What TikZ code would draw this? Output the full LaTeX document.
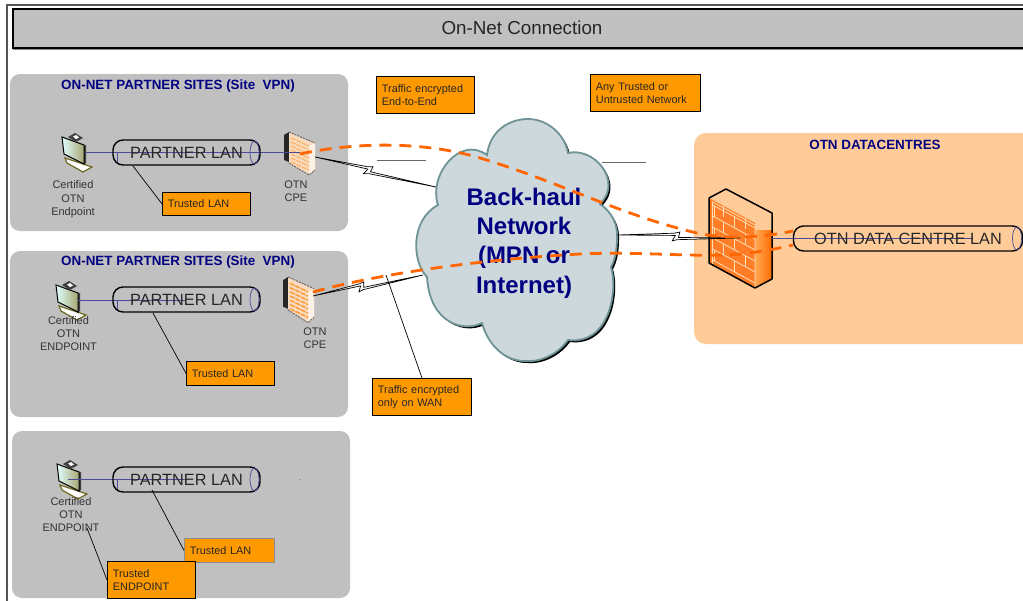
\documentclass[tikz,border=0pt]{standalone}
\usepackage{fontspec}
\setmainfont{Liberation Sans}
\usetikzlibrary{calc,shapes.geometric}
\definecolor{sitegrey}{HTML}{C0C0C0}
\definecolor{dcpeach}{HTML}{FFCC99}
\definecolor{noteorange}{HTML}{FF9900}
\definecolor{tunnelorange}{HTML}{FF6600}
\definecolor{headnavy}{HTML}{000080}
\definecolor{lanblue}{HTML}{4B4B9B}
\definecolor{cloudfill}{HTML}{CDD8DC}
\definecolor{cloudedge}{HTML}{6E9396}
\definecolor{framegrey}{HTML}{555555}
\definecolor{brickcream}{HTML}{FFDDB5}
\definecolor{wallpale}{HTML}{F9DCC0}
\def\cloudshape{(487,155) .. controls (490,130) and (510,119) .. (528,119) .. controls (548,119) and (565,135) .. (568,153) .. controls (590,148) and (612,170) .. (608,190) .. controls (607,195) and (604,200) .. (600,204) .. controls (612,212) and (618,225) .. (617,238) .. controls (617,250) and (615,260) .. (611,267) .. controls (618,290) and (610,345) .. (568,340) .. controls (555,358) and (535,362) .. (527,361) .. controls (505,362) and (488,345) .. (482,323) .. controls (465,332) and (430,325) .. (427,277) .. controls (412,262) and (410,220) .. (438,205) .. controls (428,175) and (460,135) .. (487,155) -- cycle}
\tikzset{
        sitebox/.style={fill=sitegrey,rounded corners=10pt},
        sitehead/.style={text=headnavy,font=\bfseries\fontsize{13.4}{16}\selectfont},
        note/.style={draw=black,fill=noteorange,line width=0.8pt,anchor=north west,align=left,inner sep=0pt,inner xsep=5.5pt,text=black!85,font=\fontsize{10.9}{13}\selectfont},
        caption/.style={align=center,text=black!80,font=\fontsize{11}{13.4}\selectfont},
        lanpipe/.style={draw=black,line width=1.4pt,rounded corners=10pt,inner sep=0pt,minimum height=25pt,text=black!85,font=\fontsize{16.3}{20}\selectfont},
        panend/.style={shape=ellipse,draw=lanblue,line width=0.7pt,minimum width=9pt,minimum height=23pt,inner sep=0pt},
        lanlink/.style={draw=lanblue,line width=0.9pt},
        tunnel/.style={draw=tunnelorange,line width=2.8pt,dash pattern=on 12pt off 8pt},
        callout/.style={draw=black,line width=0.7pt},
        zig/.style={draw=black,fill=white,line width=0.7pt,line join=miter,to path={
                -- ($(\tikztostart)!#1-0.045!(\tikztotarget)!3.2pt!90:(\tikztotarget)$)
                -- ($(\tikztostart)!#1!(\tikztotarget)!4.5pt!90:(\tikztotarget)$)
                -- ($(\tikztostart)!#1-0.01!(\tikztotarget)!-1pt!90:(\tikztotarget)$)
                -- (\tikztotarget)
                -- ($(\tikztostart)!#1-0.02!(\tikztotarget)!-3.2pt!90:(\tikztotarget)$)
                -- ($(\tikztostart)!#1-0.06!(\tikztotarget)!-4.5pt!90:(\tikztotarget)$)
                -- ($(\tikztostart)!#1-0.035!(\tikztotarget)!1pt!90:(\tikztotarget)$)
                -- cycle}},
        pcicon/.pic={
                \fill[white,draw=olive!70!black,line width=1.2pt] (4,24) -- (31,33) -- (22,38) -- (6,29) -- cycle;
                \fill[black!75] (22,12) -- (25,11) -- (25,29) -- (22,31) -- cycle;
                \shade[left color=cyan!12!white,right color=olive!45!black!45,draw=black,line width=1pt] (1,3) -- (23,11) -- (23,30) -- (3,20) -- cycle;
                \fill[black!75] (7,3) -- (14,-1) -- (22,4) -- (15,8) -- cycle;
                \fill[white] (12,2.5) -- (15,1) -- (18,3.5) -- (15,5) -- cycle;
        },
        smallwall/.pic={
                \fill[black!85] (0,3) -- (5,0) -- (5,30) -- (0,28) -- cycle;
                \fill[wallpale] (5,0) -- (31,11) -- (31,38) -- (25,43) -- (5,31) -- cycle;
                \fill[white!60!wallpale] (25,14) -- (31,11) -- (31,38) -- (25,43) -- cycle;
                \draw[black!60,line width=1pt,dash pattern=on 2pt off 1pt] (5,0) -- (31,11);
                \draw[black!60,line width=1pt,dash pattern=on 2pt off 1pt] (5,31) -- (25,43) -- (31,38);
                \foreach \v in {6,10,14,18,22,26,30}
                        \draw[#1,line width=1.5pt,dash pattern=on 5pt off 1pt] (7,\v) -- (25,\v+8);
        },
        bigwall/.pic={
                \fill[dcpeach] (0,9) -- (17,0) -- (63,24) -- (46,34) -- cycle;
                \fill[dcpeach] (46,34) -- (63,24) -- (63,41) -- (46,41) -- cycle;
                \shade[left color=orange!45!dcpeach,right color=orange!85!red] (46,41) -- (63,41) -- (63,90) -- (46,99) -- cycle;
                \fill[tunnelorange!85!white] (0,9) -- (46,34) -- (46,99) -- (0,74) -- cycle;
                \begin{scope}[shift={(0,9)},yslant=-0.543]
                        \foreach \v in {5,16,27,38,49,60}
                                \draw[brickcream,line width=0.8pt] (3,\v) -- (46,\v);
                        \foreach \u/\v in {14/0,36/0,5/5,25/5,14/16,36/16,5/27,25/27,14/38,36/38,5/49,25/49}
                                \draw[brickcream,line width=0.8pt] (\u,\v) -- (\u,\v+11);
                        \draw[brickcream,line width=0.8pt] (3,2) -- (3,65);
                        \draw[brickcream,line width=0.8pt] (3,2) -- (46,2) -- (46,65);
                \end{scope}
                \draw[black,line width=1.5pt,line join=round] (0,9) -- (17,0) -- (63,24) -- (63,90) -- (46,99) -- (0,74) -- cycle;
        }
}
\begin{document}
\begin{tikzpicture}[x=1pt,y=-1pt]
        \useasboundingbox (0,0) rectangle (1023,600);
        \clip (0,0) rectangle (1023,600);
        \fill[white] (0,0) rectangle (1023,600);

        \draw[framegrey,line width=1.6pt] (1030,5) -- (7,5) -- (7,605);
        \draw[fill=sitegrey,draw=black,line width=1.4pt] (13,9) rectangle (1030,48);
        \draw[framegrey!70,line width=0.8pt] (13,49.2) -- (1030,49.2);
        \node[font=\fontsize{18.8}{22}\selectfont,text=black!85] (title) at (522,28) {On-Net Connection};

        \fill[sitebox] (10,74) rectangle (348,231);
        \fill[sitebox] (10,251) rectangle (348,417);
        \fill[sitebox] (12,431) rectangle (350,598);
        \fill[dcpeach,rounded corners=12pt] (694,133) rectangle (1040,344);

        \node[sitehead] (headA) at (178,86) {ON-NET PARTNER SITES (Site\ \ VPN)};
        \node[sitehead] (headB) at (178,262) {ON-NET PARTNER SITES (Site\ \ VPN)};
        \node[sitehead] (headDC) at (875,145) {OTN DATACENTRES};

        \pic at (61,134) {pcicon};
        \pic at (55,282) {pcicon};
        \pic at (56,461) {pcicon};
        \pic at (284,132) {smallwall=orange!40!wallpale};
        \pic[yscale=1.06] at (283,277) {smallwall=orange!70!wallpale};
        \pic at (709,189) {bigwall};

        \coordinate (pcA) at (85,152);
        \coordinate (pcB) at (78,300);
        \coordinate (pcC) at (68,479);
        \coordinate (fwA) at (300,152);
        \coordinate (lanBend) at (185,300);
        \coordinate (lanCend) at (185,479);
        \coordinate (fwDC) at (772,238);
        \coordinate (lanDCend) at (973,238);

        \path[lanlink] (pcA) edge (fwA);
        \path[lanlink] (pcB) edge (lanBend);
        \path[lanlink] (pcC) edge (lanCend);
        \path[lanlink] (fwDC) edge (lanDCend);
        \draw[lanlink] (117.5,152) -- (117.5,162);
        \draw[lanlink] (117.5,300) -- (117.5,310);
        \draw[lanlink] (117.5,479) -- (117.5,490);
        \draw[lanlink] (846,232) -- (846,238);

        \node[lanpipe,minimum width=147pt] (lanA) at (186.5,152.5) {PARTNER LAN};
        \node[lanpipe,minimum width=147pt] (lanB) at (186.5,299.5) {PARTNER LAN};
        \node[lanpipe,minimum width=147pt] (lanC) at (186.5,479.5) {PARTNER LAN};
        \node[lanpipe,minimum width=229pt] (lanDC) at (908,238.5) {OTN DATA CENTRE LAN};
        \node[panend] (endA) at (254.5,152.5) {};
        \node[panend] (endB) at (254.5,299.5) {};
        \node[panend] (endC) at (254.5,479.5) {};
        \node[panend] (endDC) at (1017,238.5) {};

        \node[caption] (capA) at (73,199.5) {Certified\\OTN\\Endpoint};
        \node[caption] (capB) at (68.5,333.5) {Certified\\OTN\\ENDPOINT};
        \node[caption] (capC) at (71,514.5) {Certified\\OTN\\ENDPOINT};
        \node[caption] (cpeA) at (296,191.5) {OTN\\CPE};
        \node[caption] (cpeB) at (315,338) {OTN\\CPE};

        \fill[black,shift={(2,2)}] \cloudshape;
        \draw[fill=cloudfill,draw=cloudedge,line width=1.8pt] \cloudshape;
        \node[align=center,text=headnavy,font=\bfseries\fontsize{24}{29.3}\selectfont] (cloud) at (524,243) {Back-haul\\Network\\(MPN or\\Internet)};

        \coordinate (linkAa) at (315,157);
        \coordinate (linkAb) at (436,187);
        \coordinate (linkBa) at (313,296);
        \coordinate (linkBb) at (423,275);
        \coordinate (linkCa) at (617,235);
        \coordinate (linkCb) at (740,238);
        \path[zig=0.47] (linkAa) to (linkAb);
        \path[zig=0.47] (linkBa) to (linkBb);
        \path[zig=0.51] (linkCa) to (linkCb);

        \node[note,text width=87pt,minimum height=37pt] (noteE2E) at (376,76) {Traffic encrypted\\End-to-End};
        \node[note,text width=99pt,minimum height=37pt] (noteAny) at (590,74) {Any Trusted or\\Untrusted Network};
        \node[note,text width=88pt,minimum height=37pt] (noteWAN) at (372,378) {Traffic encrypted\\only on WAN};
        \node[note,text width=77pt,minimum height=23pt] (trustA) at (162,192) {Trusted LAN};
        \node[note,text width=77pt,minimum height=24pt] (trustB) at (186,361) {Trusted LAN};
        \node[note,text width=79pt,minimum height=24pt,draw=black!45] (trustC) at (184,538) {Trusted LAN};
        \node[note,text width=77pt,minimum height=37pt] (trustEP) at (107,561) {Trusted\\ENDPOINT};

        \coordinate (tapA) at (133,166);
        \coordinate (tapB) at (153,313);
        \coordinate (tapC) at (152,490);
        \coordinate (tapEP) at (87,528);
        \coordinate (tapWAN) at (386,275);
        \coordinate (noteWANtop) at (422,378);
        \path[callout] (tapA) edge (trustA.west);
        \path[callout] (tapB) edge (trustB.west);
        \path[callout] (tapC) edge (trustC.west);
        \path[callout] (tapEP) edge (trustEP.west);
        \path[callout] (tapWAN) edge (noteWANtop);

        \coordinate (ruleAa) at (377,160);
        \coordinate (ruleAb) at (426,160);
        \coordinate (ruleBa) at (602,162);
        \coordinate (ruleBb) at (646,162);
        \path[draw=black!60,line width=0.9pt] (ruleAa) -- (ruleAb);
        \path[draw=black!60,line width=0.9pt] (ruleBa) -- (ruleBb);

        \fill[black!70] (300,479.5) circle (0.5);

        \coordinate (tunAa) at (300,154);
        \coordinate (tunAb) at (793,231);
        \coordinate (tunBa) at (313,292);
        \coordinate (tunBb) at (793,245);
        \draw[tunnel] (tunAa) .. controls (350,143) and (420,140) .. (480,158) .. controls (560,182) and (620,215) .. (697,233) .. controls (725,239) and (760,238) .. (tunAb);
        \draw[tunnel] (tunBa) .. controls (370,276) and (470,260) .. (580,254) .. controls (640,251) and (700,258) .. (740,254) .. controls (760,252) and (780,248) .. (tunBb);
\end{tikzpicture}
\end{document}
